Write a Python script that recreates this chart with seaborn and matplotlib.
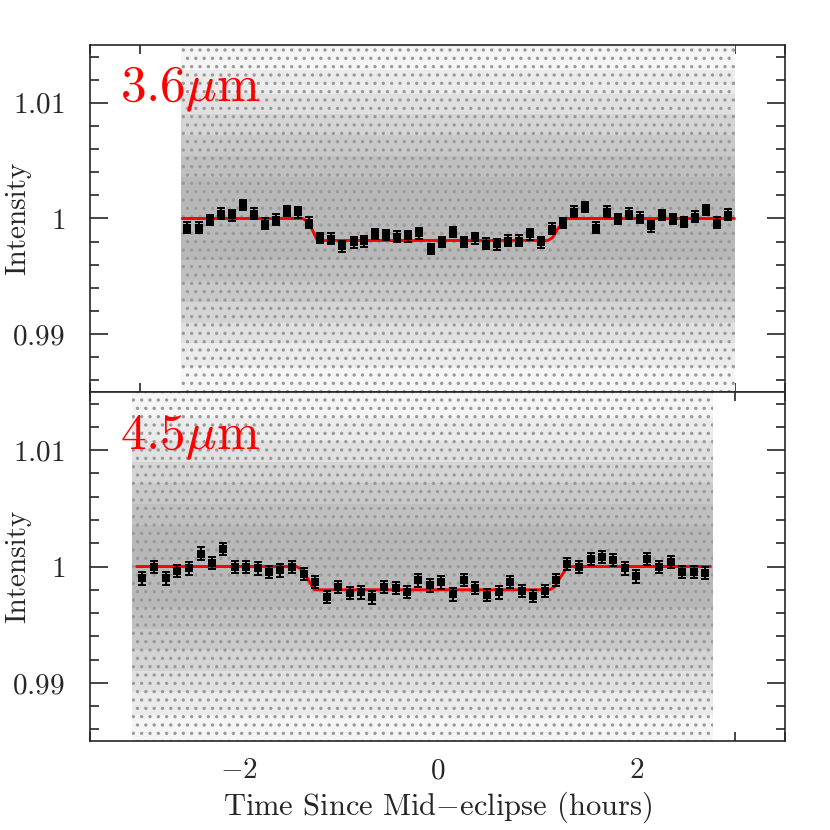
import matplotlib
matplotlib.use("Agg")
import matplotlib.pyplot as plt
import seaborn as sns
import pandas as pd
from matplotlib.ticker import MultipleLocator, FuncFormatter

# ---------------- data ----------------
time_36 = [-2.518, -2.402, -2.292, -2.178, -2.068, -1.958, -1.852, -1.738, -1.625, -1.512,
           -1.402, -1.292, -1.182, -1.068, -0.958, -0.845, -0.738, -0.625, -0.515, -0.405,
           -0.292, -0.182, -0.068, 0.042, 0.152, 0.265, 0.375, 0.488, 0.598, 0.708,
           0.818, 0.932, 1.045, 1.155, 1.262, 1.375, 1.482, 1.592, 1.708, 1.822,
           1.928, 2.038, 2.148, 2.262, 2.375, 2.485, 2.595, 2.705, 2.815, 2.928]
flux_36 = [0.99922, 0.99922, 0.99986, 1.00043, 1.00026, 1.00116, 1.00041, 0.99954, 0.99989, 1.00066,
           1.00052, 0.99963, 0.99831, 0.99825, 0.99759, 0.99793, 0.99802, 0.99866, 0.99857, 0.99842,
           0.99845, 0.99871, 0.99736, 0.99797, 0.99883, 0.99797, 0.99828, 0.99782, 0.99776, 0.99808,
           0.99808, 0.99862, 0.99793, 0.99911, 0.99960, 1.00060, 1.00098, 0.99922, 1.00058, 0.99997,
           1.00043, 1.00006, 0.99931, 1.00029, 0.99997, 0.99969, 1.00017, 1.00075, 0.99963, 1.00032]
err_36 = 0.00046

time_45 = [-2.972, -2.852, -2.735, -2.622, -2.502, -2.385, -2.272, -2.158, -2.038, -1.925,
           -1.812, -1.695, -1.582, -1.465, -1.348, -1.232, -1.112, -1.002, -0.885, -0.772,
           -0.662, -0.535, -0.422, -0.308, -0.192, -0.075, 0.038, 0.155, 0.268, 0.382,
           0.498, 0.615, 0.732, 0.855, 0.965, 1.082, 1.195, 1.308, 1.425, 1.542,
           1.655, 1.772, 1.888, 2.002, 2.115, 2.232, 2.352, 2.465, 2.582, 2.698]
flux_45 = [0.99898, 0.99998, 0.99898, 0.99961, 0.99984, 1.00111, 1.00033, 1.00149, 0.99998, 0.99993,
           0.99984, 0.99952, 0.99967, 0.99998, 0.99935, 0.99869, 0.99736, 0.99825, 0.99774, 0.99777,
           0.99734, 0.99825, 0.99817, 0.99782, 0.99881, 0.99838, 0.99863, 0.99760, 0.99886, 0.99817,
           0.99754, 0.99777, 0.99869, 0.99791, 0.99745, 0.99788, 0.99886, 1.00024, 0.99996, 1.00062,
           1.00080, 1.00054, 0.99984, 0.99915, 1.00062, 0.99998, 1.00041, 0.99950, 0.99950, 0.99946]
err_45 = 0.00053

model_t_36 = [-2.57, -1.36, -1.31, -1.26, -1.21, 1.11, 1.16, 1.21, 1.30, 2.99]
model_f_36 = [1.0, 1.0, 0.99975, 0.9990, 0.9981, 0.9981, 0.99835, 0.9991, 1.0, 1.0]
model_t_45 = [-3.03, -1.42, -1.37, -1.31, -1.24, 1.13, 1.18, 1.24, 1.31, 2.75]
model_f_45 = [1.0, 1.0, 0.99975, 0.9990, 0.9980, 0.9980, 0.99825, 0.9991, 1.0, 1.0]

# extent and density bands of the raw (unbinned) photometry cloud
cloud_t_36 = [-2.58, 3.00]
cloud_t_45 = [-3.08, 2.77]
cloud_halfwidth = [0.0150, 0.0128, 0.0108, 0.0090, 0.0072, 0.0054, 0.0036]
cloud_shade = ["#f5f5f5", "#ebebeb", "#e0e0e0", "#d4d4d4", "#c9c9c9", "#c0c0c0", "#b8b8b8"]

labels = [r"$3.6\mu\mathrm{m}$", r"$4.5\mu\mathrm{m}$"]
xlabel = r"Time Since Mid$-$eclipse (hours)"
ylabel = "Intensity"

# ---------------- style ----------------
sns.set_style("ticks")
plt.rcParams["font.family"] = ["cmr10", "DejaVu Serif"]
plt.rcParams["mathtext.fontset"] = "cm"
plt.rcParams["axes.unicode_minus"] = False
plt.rcParams["hatch.linewidth"] = 1.2

fig = plt.figure(figsize=(8.3, 8.3), dpi=100)
ax1 = fig.add_axes([0.1084, 0.5277, 0.8374, 0.4181])
ax2 = fig.add_axes([0.1084, 0.1072, 0.8374, 0.4205], sharex=ax1)

panels = [
    (ax1, time_36, flux_36, err_36, model_t_36, model_f_36, cloud_t_36, labels[0]),
    (ax2, time_45, flux_45, err_45, model_t_45, model_f_45, cloud_t_45, labels[1]),
]

for ax, t, f, e, mt, mf, ct, lab in panels:
    for hw, shade in zip(cloud_halfwidth, cloud_shade):
        ax.fill_between(ct, [1 - hw] * 2, [1 + hw] * 2, facecolor=shade,
                        edgecolor="#9a9a9a", hatch="..", linewidth=0, zorder=1)
    df = pd.DataFrame({"t": mt, "f": mf})
    sns.lineplot(data=df, x="t", y="f", ax=ax, color="#ff0000", lw=2.1,
                 sort=False, zorder=3)
    ax.errorbar(t, f, yerr=e, fmt="none", ecolor="black", elinewidth=1.4,
                capsize=3.2, capthick=1.4, zorder=4)
    bins = pd.DataFrame({"t": t, "f": f})
    sns.scatterplot(data=bins, x="t", y="f", ax=ax, marker="s", color="black",
                    s=36, edgecolor="black", linewidth=0, zorder=5)
    ax.set_xlim(-3.5, 3.5)
    ax.set_ylim(0.985, 1.015)
    ax.xaxis.set_major_locator(MultipleLocator(2))
    ax.xaxis.set_minor_locator(MultipleLocator(0.5))
    ax.yaxis.set_major_locator(MultipleLocator(0.01))
    ax.yaxis.set_minor_locator(MultipleLocator(0.002))
    ax.tick_params(which="both", direction="in", top=True, right=True,
                   width=1.2, labelsize=21, pad=12)
    ax.tick_params(axis="y", which="both", pad=18)
    ax.tick_params(which="major", length=13)
    ax.tick_params(which="minor", length=6.5)
    for sp in ax.spines.values():
        sp.set_linewidth(1.2)
        sp.set_zorder(6)
    ax.yaxis.set_major_formatter(FuncFormatter(lambda v, p: f"${v:g}$"))
    ax.set_ylabel(ylabel, fontsize=21)
    ax.yaxis.set_label_coords(-0.084, 0.5)
    ax.text(-3.2, 1.0101, lab, color="#ff0000", fontsize=37, ha="left",
            va="baseline", zorder=6)
    ax.set_xlabel("")

ax1.tick_params(labelbottom=False)
ax2.xaxis.set_major_formatter(FuncFormatter(lambda v, p: f"${v:g}$"))
ax2.set_xlabel(xlabel, fontsize=22, labelpad=4)

fig.savefig("out.png", dpi=100)
